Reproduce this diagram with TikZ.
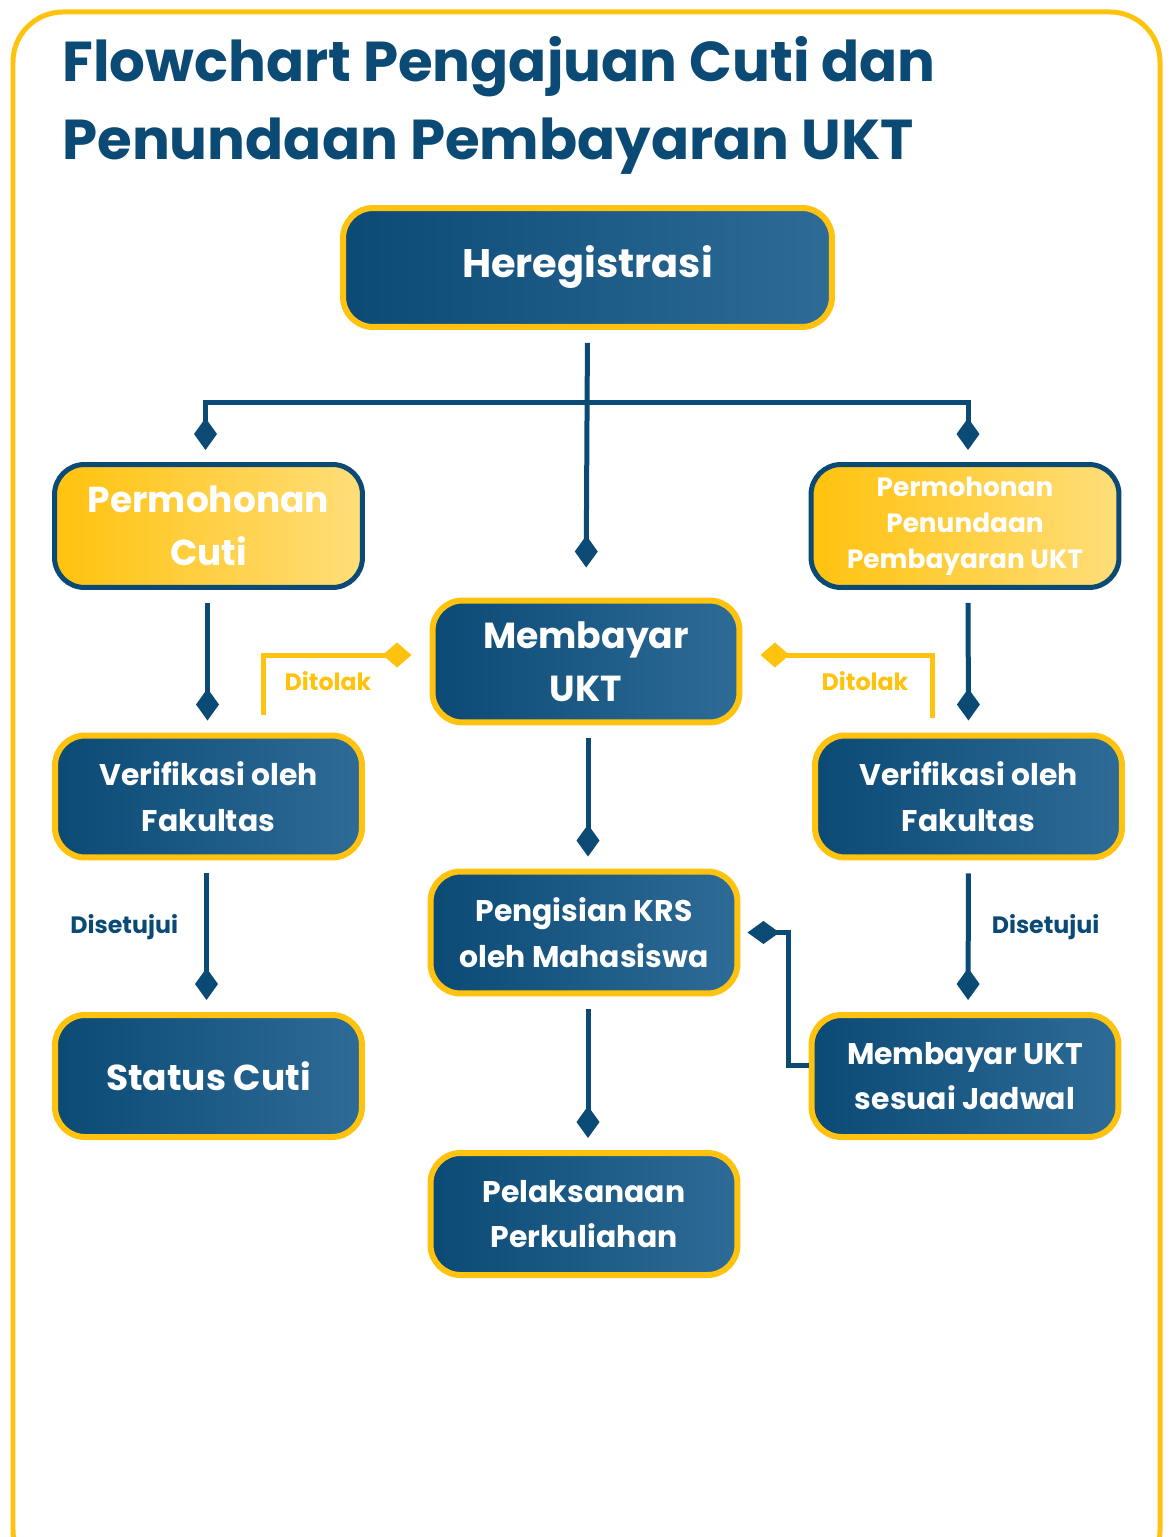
\documentclass[tikz,border=0pt]{standalone}
\usepackage{fontspec}
\setmainfont{Poppins}
\usepackage{tikz}
\usetikzlibrary{arrows.meta,positioning,calc}

\definecolor{navy}{HTML}{0B4A75}
\definecolor{navylight}{HTML}{2E6C97}
\definecolor{gold}{HTML}{FFC20E}
\definecolor{goldlight}{HTML}{FFDE7A}

\tikzset{
  bluebox/.style={rounded corners=0.6cm, draw=gold, line width=0.12cm,
    left color=navy, right color=navylight, text=white, align=center,
    minimum width=6.14cm, minimum height=2.44cm,
    font=\bfseries\fontsize{17}{26}\selectfont},
  goldbox/.style={rounded corners=0.6cm, draw=navy, line width=0.1cm,
    left color=gold, right color=goldlight, text=white, align=center,
    minimum width=6.16cm, minimum height=2.46cm},
  link/.style={draw=navy, line width=0.1cm, shorten <=0.26cm, shorten >=0.24cm,
    -{Diamond[length=0.64cm,width=0.46cm]}},
  reject/.style={draw=gold, line width=0.1cm,
    -{Diamond[length=0.58cm,width=0.5cm]}},
  lbl/.style={font=\bfseries\fontsize{13.5}{15}\selectfont, inner sep=0pt},
  headline/.style={anchor=base west, text=navy, inner sep=0pt,
    font=\bfseries\fontsize{32}{40}\selectfont}
}

\begin{document}
\begin{tikzpicture}[x=0.02cm, y=-0.02cm]
        \useasboundingbox (0,0) rectangle (1170,1537);
        \clip (0,0) rectangle (1170,1537);

        % Frame
        \draw[gold, line width=0.1cm, rounded corners=1cm] (13,12) rectangle (1160,1580);

        % Title
        \node[headline] (title1) at (62,82) {Flowchart Pengajuan Cuti dan};
        \node[headline] (title2) at (62,160) {Penundaan Pembayaran UKT};

        % Boxes
        \node[bluebox, minimum width=9.78cm, minimum height=2.38cm,
              font=\bfseries\fontsize{22.7}{28}\selectfont] (hereg) at (587.5,267.5) {Heregistrasi};
        \node[goldbox, font=\bfseries\fontsize{20.5}{30}\selectfont] (cuti) at (208.5,526) {Permohonan\\Cuti};
        \node[goldbox, font=\bfseries\fontsize{15}{20.4}\selectfont] (tunda) at (965,526) {Permohonan\\Penundaan\\Pembayaran UKT};
        \node[bluebox, font=\bfseries\fontsize{20.6}{30}\selectfont] (bayar) at (586,661.5) {Membayar\\UKT};
        \node[bluebox] (verifL) at (208.5,796.5) {Verifikasi oleh\\Fakultas};
        \node[bluebox] (verifR) at (968.5,796.5) {Verifikasi oleh\\Fakultas};
        \node[bluebox] (krs) at (584,932.5) {Pengisian KRS\\oleh Mahasiswa};
        \node[bluebox, font=\bfseries\fontsize{20.5}{26}\selectfont] (status) at (208.5,1076) {Status Cuti};
        \node[bluebox] (jadwal) at (965,1076) {Membayar UKT\\sesuai Jadwal};
        \node[bluebox] (kuliah) at (584,1214) {Pelaksanaan\\Perkuliahan};

        % Connectors
        \coordinate (split) at ($(hereg.south)+(0,73)$);
        \draw[link, shorten >=0.6cm] (hereg.south) -- (bayar.north);
        \draw[link, shorten <=0pt] (split) -| ($(cuti.north)+(-3,0)$);
        \draw[link, shorten <=0pt] (split) -| ($(tunda.north)+(3,0)$);
        \draw[link] ($(cuti.south)+(-1,0)$) -- ($(verifL.north)+(-1,0)$);
        \draw[link] ($(verifL.south)+(-2,0)$) -- node[midway, left=0.52cm, yshift=0.18cm, lbl, text=navy] {Disetujui} ($(status.north)+(-2,0)$);
        \draw[link] ($(tunda.south)+(3,0)$) -- ($(verifR.north)+(0,0)$);
        \draw[link] (verifR.south) -- node[midway, right=0.42cm, yshift=0.18cm, lbl, text=navy] {Disetujui} ($(jadwal.north)+(3,0)$);
        \draw[link] ($(bayar.south)+(2,0)$) -- ($(krs.north)+(4,0)$);
        \draw[link] ($(krs.south)+(4,0)$) -- ($(kuliah.north)+(4,0)$);
        \draw[link, shorten <=0pt, shorten >=0.14cm] ($(jadwal.west)+(0,-11)$) -- ++(-20,0) |- (krs.east);

        % Rejections
        \draw[reject] ($(verifL.north)+(54.5,-18)$) |- ($(bayar.west)+(-18,-6.5)$);
        \draw[reject] ($(verifR.north)+(-36.5,-15)$) |- ($(bayar.east)+(18,-6.5)$);
        \node[lbl, text=gold] (noL) at (328,681) {Ditolak};
        \node[lbl, text=gold] (noR) at (865,681) {Ditolak};
\end{tikzpicture}
\end{document}
